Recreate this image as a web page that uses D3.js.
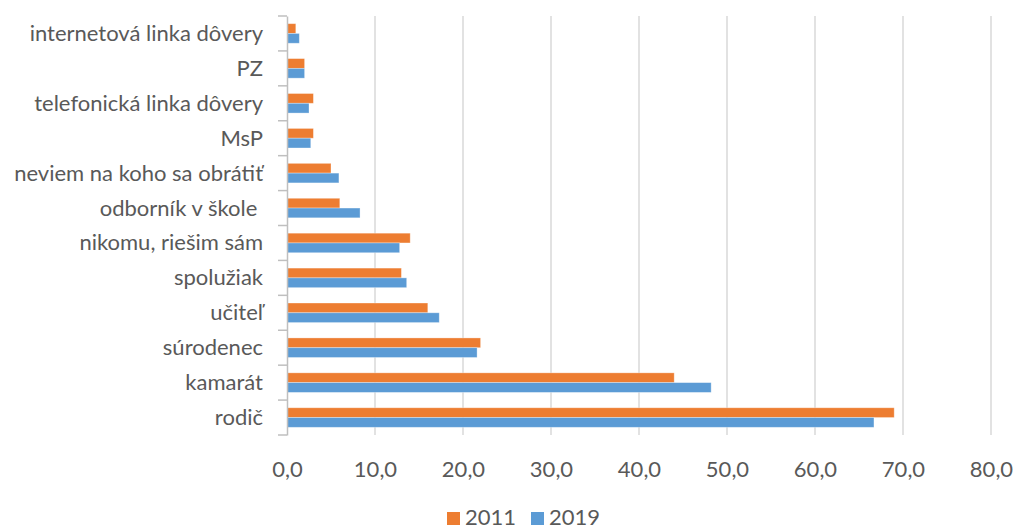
<!DOCTYPE html>
<html><head><meta charset="utf-8">
<script src="https://cdn.jsdelivr.net/npm/d3@7"></script>
<style>
body{margin:0;background:#fff;}
text{font-family:Lato,"Open Sans",sans-serif;fill:#595959;white-space:pre;}
</style></head>
<body><svg id="c" width="1016" height="530"></svg>
<script>
const categories = ["internetová linka dôvery","PZ","telefonická linka dôvery","MsP","neviem na koho sa obrátiť","odborník v škole ","nikomu, riešim sám","spolužiak","učiteľ","súrodenec","kamarát","rodič"];
const values2011 = [1.0,2.0,3.0,3.0,5.0,6.0,14.0,13.0,16.0,22.0,44.0,69.0];
const values2019 = [1.4,2.0,2.5,2.7,5.9,8.3,12.8,13.6,17.3,21.6,48.2,66.7];
const seriesNames = ["2011","2019"];
const colors = ["#ED7D31","#5B9BD5"];
const xTicks = [0,10,20,30,40,50,60,70,80];

const svg = d3.select("#c");
const pL = 287, pR = 991, pT = 16, pB = 435;
const fs = "22px";
const x = d3.scaleLinear().domain([0,80]).range([pL,pR]);
const y = d3.scaleBand().domain(categories).range([pT,pB]).paddingInner(0.44).paddingOuter(0.22);
const ys = d3.scaleBand().domain(seriesNames).range([0,y.bandwidth()]);

// gridlines
svg.append("g").selectAll("line").data(xTicks.slice(1)).join("line")
  .attr("x1",d=>x(d)).attr("x2",d=>x(d)).attr("y1",pT).attr("y2",pB)
  .attr("stroke","#d9d9d9").attr("stroke-width",1.5);

// bars
const data = [values2011, values2019];
const g = svg.append("g");
categories.forEach((c,i)=>{
  seriesNames.forEach((s,j)=>{
    g.append("rect")
      .attr("x",x(0)).attr("y",y(c)+ys(s))
      .attr("width",x(data[j][i])-x(0)).attr("height",ys.bandwidth())
      .attr("fill",colors[j]).attr("stroke","#ffffff").attr("stroke-opacity",0.4).attr("stroke-width",0.8);
  });
});

// y axis
const yAxis = d3.axisLeft(d3.scaleBand().domain(categories).range([pT,pB])).tickSize(0).tickPadding(24);
const ya = svg.append("g").attr("transform",`translate(${pL},0)`).call(yAxis);
ya.select(".domain").attr("stroke","#bfbfbf").attr("stroke-width",1.5);
ya.selectAll("text").style("font-size",fs).attr("fill","#595959").attr("dy","0.34em");
// category tick marks at band boundaries
const bnd = d3.range(categories.length+1).map(i=>pT+i*(pB-pT)/categories.length);
svg.append("g").selectAll("line").data(bnd).join("line")
  .attr("x1",pL-9).attr("x2",pL).attr("y1",d=>d).attr("y2",d=>d)
  .attr("stroke","#bfbfbf").attr("stroke-width",1.5);

// x axis labels
const xAxis = d3.axisBottom(x).tickValues(xTicks).tickSize(0).tickPadding(26)
  .tickFormat(d=>d3.format(".1f")(d).replace(".",","));
const xa = svg.append("g").attr("transform",`translate(0,${pB})`).call(xAxis);
xa.select(".domain").remove();
xa.selectAll("text").style("font-size",fs).attr("fill","#595959");

// legend
const lg = svg.append("g");
const lx = [447, 531];
seriesNames.forEach((s,j)=>{
  lg.append("rect").attr("x",lx[j]).attr("y",512).attr("width",13).attr("height",13).attr("fill",colors[j]);
  lg.append("text").attr("x",lx[j]+18).attr("y",525).style("font-size",fs).text(s);
});
</script></body></html>
